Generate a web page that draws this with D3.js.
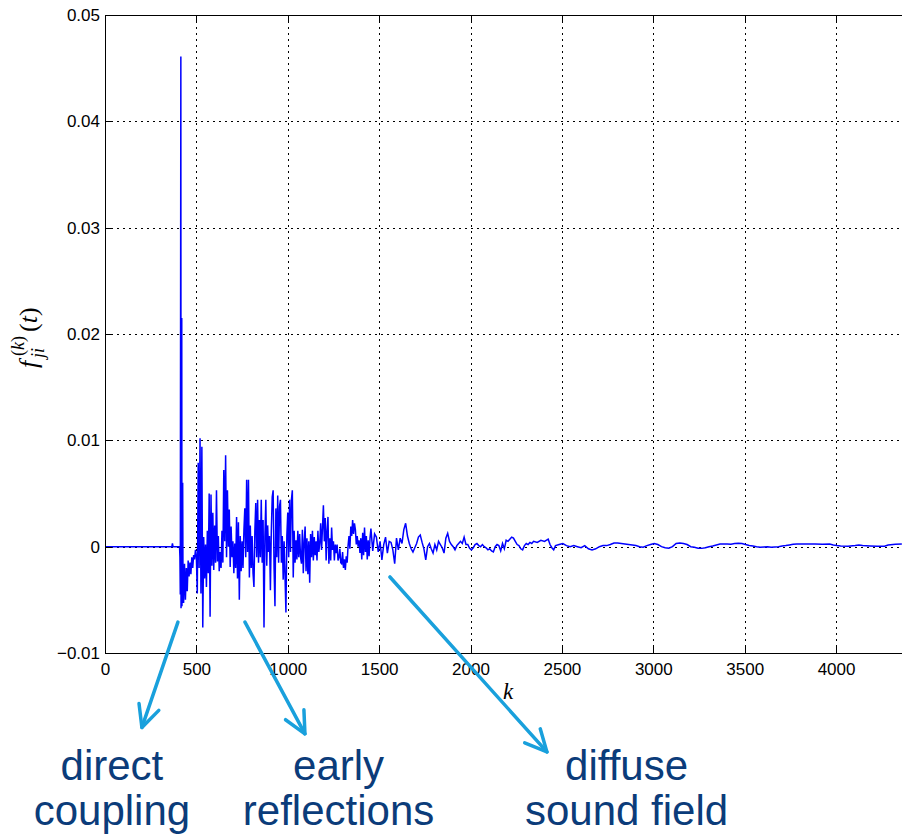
<!DOCTYPE html>
<meta charset="utf-8">
<style>
body { margin: 0; background: #fff; }
svg { display: block; background: #fff; }
.axis text { font: 17px "Liberation Sans", Arial, sans-serif; fill: #000; }
.axis path, .axis line { stroke: #000; shape-rendering: crispEdges; }
.grid line { stroke: #000; stroke-width: 1px; stroke-dasharray: 1.5,4.5; shape-rendering: crispEdges; }
.frame { fill: none; stroke: #000; shape-rendering: crispEdges; }
.signal { fill: none; stroke: #0000ff; stroke-width: 1.5px; stroke-linejoin: miter; }
.note-arrow { fill: none; stroke: #19a0dc; stroke-width: 3.5px; stroke-linecap: round; stroke-linejoin: round; }
.note-text { font: 42px "Liberation Sans", Arial, sans-serif; fill: #0b3c7a; text-anchor: middle; }
.math { font-family: "Liberation Serif", "DejaVu Serif", serif; font-style: italic; fill: #000; }
</style>
<body>
<div id="chart"></div>
<script src="https://d3js.org/d3.v7.min.js"></script>
<script>
// axis ticks (f values are in units of 1e-3)
var xTicks = [0, 500, 1000, 1500, 2000, 2500, 3000, 3500, 4000];
var yTicks = [-10, 0, 10, 20, 30, 40, 50];
var yTickLabels = ["\u22120.01", "0", "0.01", "0.02", "0.03", "0.04", "0.05"];

// silence before the first arrival  [k, f]
var leadIn = [[0, 0], [366, 0], [369, 0.3], [372, 0], [408, 0]];

// direct path spikes  [k, f]
var directCoupling = [
  [410, -1.0], [412, -4.5], [415, 46.1], [416, -5.8], [418, -5.0], [420, 21.5],
  [421, -5.6], [423, -3.5], [425, 6.0], [427, -4.8]
];

// early reflections, k = 430, 435, 440, ...
var earlyStart = 430, earlyStep = 5;
var earlyF = [
  -5.3, -1.6, -5.0, -2.0, -4.2, -1.3, -2.8, -1.5, -2.6, -1.0,
  -2.0, -0.8, -1.2, -0.3, -1.0, -4.4, 7.9, -2.0, 10.2, -4.4,
  9.4, -7.6, 0.9, -3.0, 0.2, -3.8, 1.5, -2.5, 5.0, -6.6,
  4.9, -1.8, 3.2, -2.2, 2.0, -1.5, 5.3, -1.4, 1.0, -2.3,
  -0.5, -2.0, 1.5, -1.5, 7.2, 0.5, 8.6, -1.0, 5.3, 0.0,
  3.5, -1.9, 1.9, -1.0, 0.5, -2.5, 0.3, -2.0, 2.8, -3.0,
  2.3, -5.0, 1.0, -2.3, 0.5, -2.0, 1.5, 3.6, -1.0, 6.3,
  -0.5, 6.3, -2.9, 2.0, -2.0, 1.0, -2.5, -3.8, 1.5, 4.1,
  -1.0, 4.4, -1.5, 2.5, -1.0, 4.4, -1.5, 2.5, -7.6, 1.0,
  4.4, -1.8, 2.0, -0.5, 1.0, -4.1, 1.5, 4.7, 5.3, -2.0,
  -5.6, 3.6, -1.0, 4.8, -1.5, 3.8, 4.4, -1.5, 1.0, -3.1,
  0.5, -2.8, -6.2, 1.0, 3.2, -1.0, 4.4, -0.5, 4.4, 5.3,
  -2.9, 1.5, -1.5, 0.6, -1.2, 1.5, -1.0, 1.2, -1.0, -1.6,
  1.6, -2.5, 0.5, 1.9, -2.3, 0.8, -2.6, 0.5, -3.4, 1.2,
  -1.0, 1.5, -1.3, 0.9, -0.8, 0.5, -1.3, 1.5, -0.5, 0.3,
  2.2, -0.3, 1.8, 3.9, 0.5, 2.7, -1.3, 1.5, 2.8, -1.6,
  0.8, -1.3, 1.8, -0.3, 0.5, -1.3, 0.2, -0.6, 0.2, -1.3,
  -1.0, -0.2, -1.5, -1.6, -0.5, -2.0, -1.2, -2.2, -0.9, -1.5,
  0.1, 1.0, -0.2, 1.9, 1.0, 2.5, 1.2, 2.2, 1.6, 0.2,
  1.0, 0.0, 0.6, -0.6, 0.8, -1.2, 1.3, -0.8, 1.8, -0.5,
  1.0, -1.2, 0.6, -0.9, 0.8
];

// transition to the diffuse field, k = 1455, 1465, ...
var diffuseStart = 1455, diffuseStep = 10;
var diffuseF = [
  1.7, -0.4, 1.2, 0.9, -0.5, 0.5, -1.25, 0.2, 0.9, -0.6,
  0.5, 0.4, -0.3, -1.6, 0.8, -0.3, 0.8, 0.3, 1.6, 2.2,
  1.0, 0.3, -0.2, -0.5, -0.1, 0.3, 0.9, 1.1, 0.4, -0.2,
  -1.25, 0.0, 0.3, -0.2, -0.6, 0.2, -0.3, 0.5, 0.2, -0.1,
  -0.6, 0.8, 1.26, 0.5, 0.2, 0.0, -0.3, 0.1, 0.3, 0.5,
  0.3, 0.9, 0.2, 0.2, -0.15, -0.3, -0.1, 0.2, 0.3, 0.1,
  0.0, 0.2, 0.0, -0.1, -0.3, -0.2, -0.4, -0.5, 0.0, 0.2
];

// late tail
var tailK = [
  2155, 2165, 2175, 2185, 2195, 2205, 2215, 2225, 2235, 2245,
  2255, 2265, 2275, 2285, 2295, 2305, 2315, 2325, 2335, 2345,
  2365, 2385, 2405, 2425, 2435, 2445, 2455, 2465, 2485, 2505,
  2525, 2545, 2565, 2585, 2605, 2625, 2645, 2665, 2685, 2705,
  2725, 2745, 2765, 2785, 2805, 2825, 2845, 2865, 2885, 2905,
  2925, 2945, 2965, 2985, 3005, 3025, 3045, 3065, 3085, 3105,
  3125, 3145, 3165, 3185, 3205, 3225, 3245, 3265, 3285, 3305,
  3325, 3345, 3365, 3385, 3405, 3425, 3445, 3465, 3485, 3505,
  3525, 3545, 3565, 3585, 3605, 3625, 3645, 3665, 3685, 3705,
  3725, 3745, 3765, 3785, 3805, 3845, 3885, 3925, 3965, 3985,
  4005, 4025, 4065, 4105, 4125, 4145, 4185, 4225, 4265, 4285,
  4325, 4360
];
var tailF = [
  0.1, -0.4, 0.3, -0.2, 0.6, 0.5, 0.7, 0.9, 0.8, 0.5,
  0.2, 0.1, -0.2, -0.3, 0.1, 0.3, 0.2, 0.4, 0.3, 0.5,
  0.4, 0.6, 0.5, 0.7, 0.2, -0.1, -0.3, 0.1, 0.2, 0.3,
  0.1, 0.0, 0.1, 0.0, -0.1, 0.1, -0.2, -0.3, -0.2, 0.0,
  0.1, 0.1, 0.2, 0.35, 0.35, 0.3, 0.25, 0.2, 0.15, 0.1,
  0.0, -0.05, 0.1, 0.2, 0.3, 0.2, 0.0, -0.1, -0.15, 0.0,
  0.3, 0.35, 0.3, 0.2, 0.0, -0.06, -0.15, -0.16, -0.1, 0.0,
  0.07, 0.16, 0.25, 0.25, 0.25, 0.22, 0.3, 0.32, 0.3, 0.2,
  0.12, 0.07, 0.0, -0.06, -0.03, 0.0, -0.06, -0.03, 0.0, 0.07,
  0.1, 0.16, 0.22, 0.25, 0.25, 0.25, 0.25, 0.22, 0.25, 0.16,
  0.1, 0.07, 0.05, 0.1, 0.16, 0.1, 0.07, 0.05, 0.05, 0.16,
  0.22, 0.25
];

// annotations, positions in (k, f) data units
var notes = [
  { from: [399, -7.1], to: [202, -17.0], at: 38, lines: ["direct", "coupling"] },
  { from: [766, -7.1], to: [1094, -17.6], at: 1278, lines: ["early", "reflections"] },
  { from: [1559, -2.85], to: [2418, -19.3], at: 2854, lines: ["diffuse", "sound field"] }
];
var noteBaselines = [-21.9, -26.2];

var W = 902, H = 836;
var plotLeft = 105, plotTop = 15, plotBottom = 653, plotRight = 905.5;

var x = d3.scaleLinear().domain([0, 4380]).range([plotLeft, plotRight]);
var y = d3.scaleLinear().domain([-10, 50]).range([plotBottom, plotTop]);

var svg = d3.select("#chart").append("svg")
  .attr("width", W)
  .attr("height", H);

// grid
var grid = svg.append("g").attr("class", "grid");
grid.selectAll(".gx").data(xTicks.slice(1)).enter().append("line")
  .attr("x1", function(d) { return Math.round(x(d)) + 0.5; })
  .attr("x2", function(d) { return Math.round(x(d)) + 0.5; })
  .attr("y1", plotTop).attr("y2", plotBottom);
grid.selectAll(".gy").data(yTicks.slice(1, -1)).enter().append("line")
  .attr("y1", function(d) { return Math.round(y(d)) + 0.5; })
  .attr("y2", function(d) { return Math.round(y(d)) + 0.5; })
  .attr("x1", plotLeft).attr("x2", plotRight);

// signal
var series = leadIn.concat(
  directCoupling,
  earlyF.map(function(f, i) { return [earlyStart + i * earlyStep, f]; }),
  diffuseF.map(function(f, i) { return [diffuseStart + i * diffuseStep, f]; }),
  tailF.map(function(f, i) { return [tailK[i], f]; })
);
var line = d3.line()
  .x(function(d) { return x(d[0]); })
  .y(function(d) { return y(d[1]); });
svg.append("path")
  .datum(series)
  .attr("class", "signal")
  .attr("d", line);

// axes (inward ticks, box)
svg.append("g")
  .attr("class", "axis axis--x")
  .attr("transform", "translate(0," + plotBottom + ")")
  .call(d3.axisBottom(x).tickValues(xTicks).tickFormat(d3.format("d"))
    .tickSizeInner(-7).tickSizeOuter(0).tickPadding(10));
svg.append("g")
  .attr("class", "axis axis--top")
  .attr("transform", "translate(0," + plotTop + ")")
  .call(d3.axisTop(x).tickValues(xTicks).tickFormat("")
    .tickSizeInner(-7).tickSizeOuter(0));
svg.append("g")
  .attr("class", "axis axis--y")
  .attr("transform", "translate(" + plotLeft + ",0)")
  .call(d3.axisLeft(y).tickValues(yTicks)
    .tickFormat(function(d, i) { return yTickLabels[i]; })
    .tickSizeInner(-7).tickSizeOuter(0).tickPadding(5));
svg.append("rect")
  .attr("class", "frame")
  .attr("x", plotLeft + 0.5).attr("y", plotTop + 0.5)
  .attr("width", plotRight - plotLeft).attr("height", plotBottom - plotTop);

// axis labels
svg.append("text")
  .attr("class", "math")
  .attr("x", 508).attr("y", 699)
  .attr("text-anchor", "middle")
  .style("font-size", "23px")
  .text("k");

var yl = svg.append("g").attr("transform", "translate(37,334) rotate(-90)");
yl.append("text").attr("class", "math").attr("x", -34).attr("y", 0)
  .style("font-size", "26px").text("f");
yl.append("text").attr("class", "math").attr("x", -24).attr("y", 7)
  .style("font-size", "18px").text("ji");
yl.append("text").attr("class", "math").attr("x", -22).attr("y", -13)
  .style("font-size", "18px").style("font-style", "normal")
  .html('(<tspan style="font-style:italic">k</tspan>)');
yl.append("text").attr("class", "math").attr("x", 2).attr("y", 0)
  .style("font-size", "26px").style("font-style", "normal")
  .html('(<tspan style="font-style:italic">t</tspan>)');

// annotation arrows
var ann = svg.append("g").attr("class", "notes");
notes.forEach(function(n) {
  var x0 = x(n.from[0]), y0 = y(n.from[1]);
  var x1 = x(n.to[0]), y1 = y(n.to[1]);
  var a = Math.atan2(y0 - y1, x0 - x1), len = 24, spread = 0.45;
  ann.append("line").attr("class", "note-arrow")
    .attr("x1", x0).attr("y1", y0).attr("x2", x1).attr("y2", y1);
  ann.append("path").attr("class", "note-arrow")
    .attr("d", "M" + (x1 + len * Math.cos(a + spread)) + "," + (y1 + len * Math.sin(a + spread)) +
      "L" + x1 + "," + y1 +
      "L" + (x1 + len * Math.cos(a - spread)) + "," + (y1 + len * Math.sin(a - spread)));
  n.lines.forEach(function(t, i) {
    ann.append("text").attr("class", "note-text")
      .attr("x", x(n.at)).attr("y", y(noteBaselines[i]))
      .text(t);
  });
});
</script>
